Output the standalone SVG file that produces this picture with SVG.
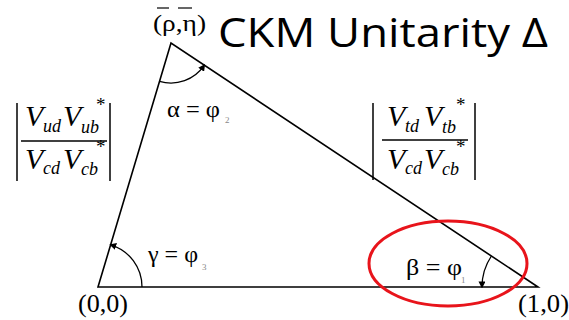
<svg xmlns="http://www.w3.org/2000/svg" width="569" height="320" viewBox="0 0 569 320">
<defs>
<style>
.m{font-family:"Liberation Serif","DejaVu Serif",serif;font-style:italic;font-size:30px}
.sub{font-size:18px}
.star{font-style:normal;font-size:19px}
.edge{stroke:#000;stroke-width:1.6;fill:none}
.bar{stroke:#000;stroke-width:1.5;fill:none}
.arc{stroke:#000;stroke-width:1.3;fill:none;marker-end:url(#ah)}
.tiny{font-family:"Liberation Serif","DejaVu Serif",serif;font-size:9px;fill:#888}
.lab{font-family:"Liberation Serif","DejaVu Serif",serif}
</style>
<marker id="ah" viewBox="0 0 10 10" refX="8" refY="5" markerWidth="7" markerHeight="7" markerUnits="userSpaceOnUse" orient="auto">
<path d="M0,0 L10,5 L0,10 z" fill="#000"/>
</marker>
</defs>
<rect width="569" height="320" fill="#fff"/>

<g id="title">
<text x="218" y="47" font-family="'Open Sans','Liberation Sans',sans-serif" font-size="40" textLength="330" lengthAdjust="spacingAndGlyphs">CKM Unitarity Δ</text>
</g>

<g id="connectors">
<path class="edge" d="M171,43 L98,287 L538,287 Z"/>
</g>

<g id="vertex-top">
<text class="lab" x="153" y="31" style="font-size:23px" textLength="53" lengthAdjust="spacingAndGlyphs">(ρ,η)</text>
<line x1="157" y1="8" x2="169" y2="8" stroke="#000" stroke-width="1.2"/>
<line x1="178" y1="8" x2="192" y2="8" stroke="#000" stroke-width="1.2"/>
</g>

<g id="vertex-origin">
<text class="lab" x="78" y="312" style="font-size:26px" textLength="50" lengthAdjust="spacingAndGlyphs">(0,0)</text>
</g>

<g id="vertex-one">
<text class="lab" x="518" y="312" style="font-size:26px" textLength="51" lengthAdjust="spacingAndGlyphs">(1,0)</text>
</g>

<g id="angle-alpha">
<path class="arc" d="M159.5,81.3 A40,40 0 0 0 204.3,65.1"/>
<text class="lab" x="167" y="117" style="font-size:24px" textLength="53" lengthAdjust="spacingAndGlyphs">α = φ</text>
<text class="tiny" x="225" y="123">2</text>
</g>

<g id="angle-gamma">
<path class="arc" d="M142,287 A44,44 0 0 0 110.6,244.8"/>
<text class="lab" x="148" y="262" style="font-size:24px" textLength="50" lengthAdjust="spacingAndGlyphs">γ = φ</text>
<text class="tiny" x="202" y="270">3</text>
</g>

<g id="angle-beta">
<path class="arc" d="M491.4,256 A56,56 0 0 0 482,287"/>
<text class="lab" x="406" y="275" style="font-size:24px" textLength="56" lengthAdjust="spacingAndGlyphs">β = φ</text>
<text class="tiny" x="461" y="283">1</text>
</g>

<g id="highlight">
<ellipse cx="448" cy="263.5" rx="79" ry="42.5" fill="none" stroke="#e8141b" stroke-width="3"/>
</g>

<g id="ratio-left">
<line class="bar" x1="17" y1="103" x2="17" y2="181"/>
<line class="bar" x1="110" y1="103" x2="110" y2="181"/>
<line class="bar" x1="21" y1="141" x2="107" y2="141"/>
<text class="m" x="25" y="126">V<tspan class="sub" x="43" y="132">ud</tspan><tspan x="63" y="126">V</tspan><tspan class="star" x="96" y="111">*</tspan><tspan class="sub" x="81" y="133">ub</tspan></text>
<text class="m" x="25" y="169">V<tspan class="sub" x="43" y="174">cd</tspan><tspan x="63" y="169">V</tspan><tspan class="star" x="96" y="153">*</tspan><tspan class="sub" x="81" y="175">cb</tspan></text>
</g>

<g id="ratio-right">
<line class="bar" x1="373" y1="103" x2="373" y2="180"/>
<line class="bar" x1="475" y1="103" x2="475" y2="180"/>
<line class="bar" x1="382" y1="140" x2="468" y2="140"/>
<text class="m" x="387" y="126">V<tspan class="sub" x="405" y="132">td</tspan><tspan x="424" y="126">V</tspan><tspan class="star" x="456" y="111">*</tspan><tspan class="sub" x="442" y="133">tb</tspan></text>
<text class="m" x="387" y="169">V<tspan class="sub" x="405" y="174">cd</tspan><tspan x="424" y="169">V</tspan><tspan class="star" x="456" y="153">*</tspan><tspan class="sub" x="442" y="175">cb</tspan></text>
</g>
</svg>
